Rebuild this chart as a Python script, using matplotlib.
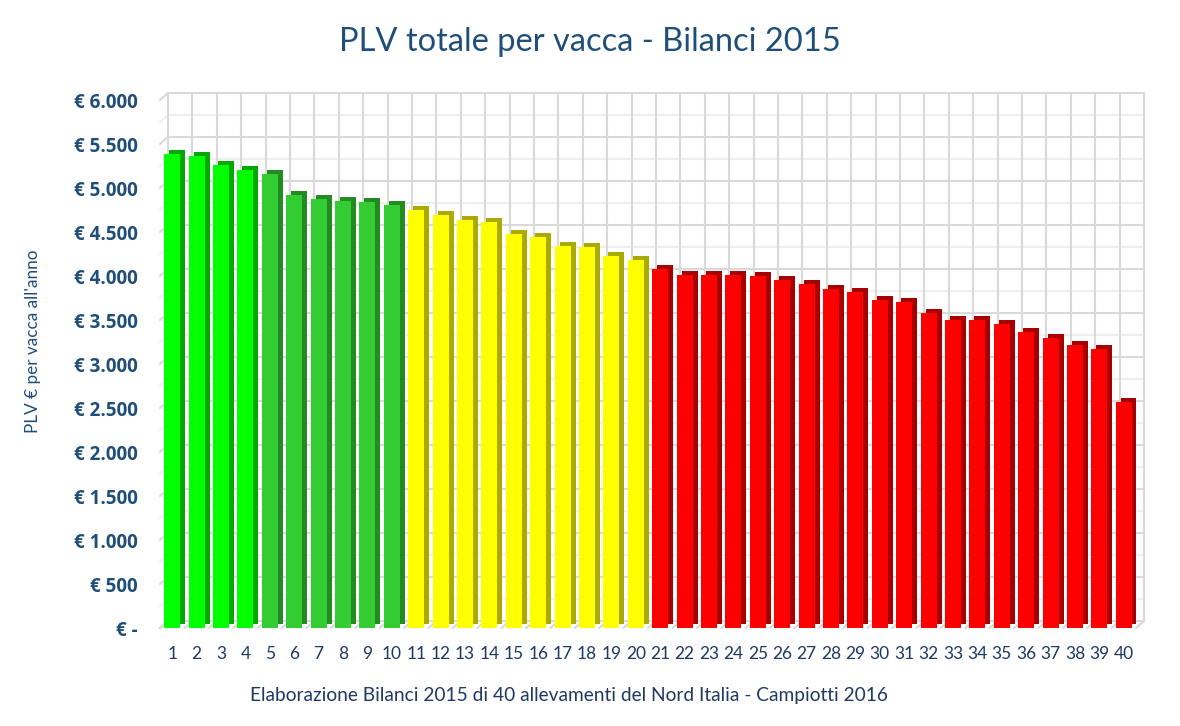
import numpy as np
import matplotlib
matplotlib.use("Agg")
import matplotlib.pyplot as plt
from matplotlib.transforms import ScaledTranslation

# PLV per vacca (euro/anno), 40 allevamenti ordinati
allevamenti = [str(i) for i in range(1, 41)]
plv = [5390, 5360, 5260, 5210, 5155, 4915, 4880, 4855, 4840, 4805,
       4745, 4690, 4635, 4610, 4480, 4445, 4345, 4330, 4225, 4180,
       4075, 4015, 4015, 4010, 3995, 3950, 3910, 3855, 3815, 3725,
       3700, 3580, 3500, 3495, 3460, 3365, 3290, 3220, 3175, 2565]
y_ticks = list(range(0, 6001, 500))

# fasce di colore: (primo, ultimo, fronte, lato)
fasce = [(0, 3, "#00FF00", "#00A800"),
         (4, 9, "#33CC33", "#228B22"),
         (10, 19, "#FFFF00", "#AAAA00"),
         (20, 39, "#FF0000", "#A80000")]

blu = "#1F4E79"
fonts = ["Lato", "DejaVu Sans"]

fig = plt.figure(figsize=(11.8, 7.26), dpi=100)
ax = fig.add_axes([160 / 1180, 98 / 726, 976 / 1180, 528 / 726])


def px(dx, dy):
    return ScaledTranslation(dx / 100, dy / 100, fig.dpi_scale_trans)


x = np.arange(len(plv))
front = [None] * len(plv)
side = [None] * len(plv)
for a, b, cf, cs in fasce:
    for i in range(a, b + 1):
        front[i] = cf
        side[i] = cs

# parete di fondo (griglia spostata per l'effetto 3D)
wall = ax.transData + px(8, 7)
for v in range(0, 6001, 250):
    c = "#D9D9D9" if v % 500 == 0 else "#EFEFEF"
    ax.plot([-0.5, len(plv) - 0.5], [v, v], color=c, lw=1.5,
            transform=wall, zorder=0, clip_on=False)
    ax.annotate("", xy=(-0.5, v), xytext=(8, 7), textcoords="offset pixels",
                arrowprops=dict(arrowstyle="-", color=c, lw=1.5,
                                shrinkA=0, shrinkB=0), zorder=0)
for k in range(len(plv) + 1):
    ax.plot([k - 0.5, k - 0.5], [0, 6000], color="#D9D9D9", lw=1.5,
            transform=wall, zorder=0, clip_on=False)
    ax.annotate("", xy=(k - 0.5, 0), xytext=(8, 7), textcoords="offset pixels",
                arrowprops=dict(arrowstyle="-", color="#D9D9D9", lw=1.5,
                                shrinkA=0, shrinkB=0), zorder=0)

# barre: lato/top scuro dietro, fronte davanti
ax.bar(x, plv, width=0.66, color=side, transform=ax.transData + px(5, 4),
       zorder=2)
ax.bar(x, plv, width=0.66, color=front, zorder=3)

ax.set_xlim(-0.5, len(plv) - 0.5)
ax.set_ylim(0, 6000)
for s in ax.spines.values():
    s.set_visible(False)
ax.set_facecolor("none")

ax.set_xticks(x)
ax.set_xticklabels(allevamenti, fontsize=12.5, color="#1F3864", family=fonts)
ax.set_yticks(y_ticks)
ax.set_yticklabels(["€ -" if v == 0 else "€ " + f"{v:,}".replace(",", ".")
                    for v in y_ticks],
                   fontsize=13.5, color=blu, fontweight="bold",
                   family=["Open Sans", "DejaVu Sans"])
ax.tick_params(axis="x", length=0, pad=13)
ax.tick_params(axis="y", length=0, pad=16)

fig.text(0.5, 1 - 42 / 726, "PLV totale per vacca - Bilanci 2015",
         ha="center", va="center", fontsize=23.5, color=blu, family=fonts)
fig.text(33 / 1180, 1 - 341 / 726, "PLV € per vacca all'anno", rotation=90,
         ha="center", va="center", fontsize=12.3, color=blu, family=fonts)
fig.text(569 / 1180, 1 - 696 / 726,
         "Elaborazione Bilanci 2015 di 40 allevamenti del Nord Italia - Campiotti 2016",
         ha="center", va="center", fontsize=13.8, color="#1F3864", family=fonts)

fig.savefig("out.png", dpi=100)
